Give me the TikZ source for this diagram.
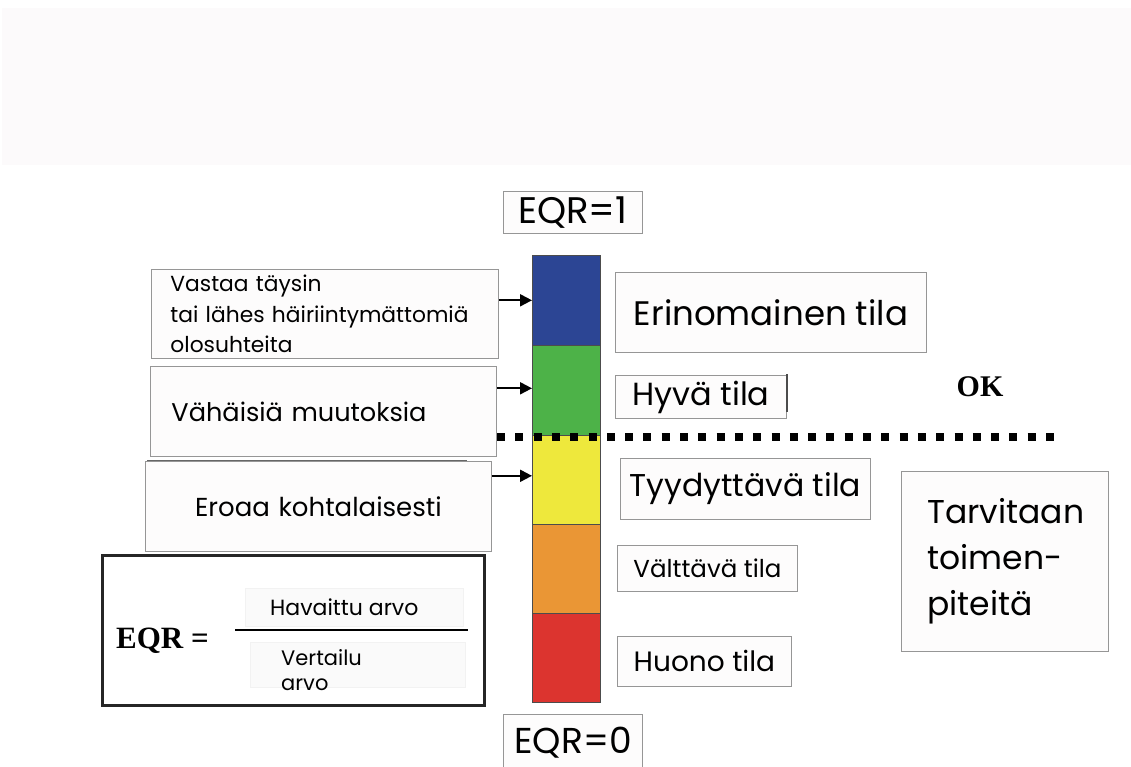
\documentclass[tikz,border=0pt]{standalone}
\usepackage{fontspec}
\setmainfont{Poppins}
\newfontfamily\timesf{Liberation Serif}
\usetikzlibrary{arrows.meta,calc}
\definecolor{topfill}{RGB}{252,250,251}
\definecolor{boxfill}{RGB}{253,252,252}
\definecolor{boxline}{RGB}{150,150,150}
\definecolor{cblue}{RGB}{44,69,148}
\definecolor{cgreen}{RGB}{77,178,72}
\definecolor{cyellow}{RGB}{238,232,60}
\definecolor{corange}{RGB}{234,150,53}
\definecolor{cred}{RGB}{220,52,47}
\newcommand\myfs[2]{\fontsize{#1}{#2}\selectfont}
\begin{document}
\begin{tikzpicture}[x=1pt,y=-1pt,
  tbox/.style={draw=boxline, fill=boxfill, line width=0.9pt, anchor=north west, align=left, inner ysep=0pt},
  seg/.style={draw=black!70, line width=0.6pt, minimum width=68pt, anchor=north west, inner sep=0pt},
  arr/.style={-{Triangle[length=12pt,width=12pt]}, line width=2pt},
  fracbox/.style={draw=black!5, fill=black!2, anchor=north west, inner sep=0pt}
]
\clip (0,0) rectangle (1131,767);
\fill[white] (0,0) rectangle (1131,767);
\fill[topfill] (2,8) rectangle (1131,165);

% left description boxes
\node[tbox, minimum width=347pt, minimum height=89pt, text width=309pt, inner xsep=19pt, font=\myfs{21.8}{30.5}] (v1) at (151,269) {Vastaa täysin\\tai lähes häiriintymättomiä\\olosuhteita};
\node[tbox, minimum width=346pt, minimum height=90pt, text width=304pt, inner xsep=21pt, font=\myfs{25.6}{30}] (v2) at (150,366) {Vähäisiä muutoksia};
\node[tbox, minimum width=346pt, minimum height=90pt, text width=326pt, inner xsep=10pt, align=center, font=\myfs{26}{30}] (v3) at (145,461) {Eroaa kohtalaisesti};
\draw[black!60, line width=1pt] (147,460) -- (467,460);

% colour bar
\node[seg, fill=cblue, minimum height=90pt] (sb) at (532,255) {};
\node[seg, fill=cgreen, minimum height=90pt] (sg) at (532,345) {};
\node[seg, fill=cyellow, minimum height=89pt] (sy) at (532,435) {};
\node[seg, fill=corange, minimum height=89pt] (so) at (532,524) {};
\node[seg, fill=cred, minimum height=89pt] (sr) at (532,613) {};

% arrows
\draw[arr] (v1.east |- sb.west) -- (sb.west);
\draw[arr] ($(v2.east |- sg.west)+(0,-2)$) -- ($(sg.west)+(0,-2)$);
\draw[arr] ($(v3.east |- sy.west)+(0,-4)$) -- ($(sy.west)+(0,-4)$);

% dotted limit line
\coordinate (dl) at (497,437);
\coordinate (dr) at (1054,437);
\draw[line width=8pt, dash pattern=on 8pt off 10.3pt] (dl) -- (dr);

% EQR end labels
\node[tbox, minimum width=139pt, minimum height=42pt, inner xsep=6pt, font=\myfs{37}{42}] (e1) at (503,191) {EQR=1};
\node[tbox, minimum width=139pt, minimum height=57pt, inner xsep=4pt, font=\myfs{36}{42}] (e0) at (503,714) {EQR=0};

% right status boxes
\node[tbox, minimum width=311pt, minimum height=80pt, inner xsep=18pt, font=\myfs{34}{40}] (r1) at (615,272) {Erinomainen tila};
\node[tbox, minimum width=171pt, minimum height=43pt, inner xsep=6pt, font=\myfs{32}{36}] (r2) at (615,375) {Hyvä tila};
\draw[black!70, line width=1.2pt] (787,374) -- (787,412);
\node[tbox, minimum width=250pt, minimum height=61pt, inner xsep=1pt, font=\myfs{31.5}{36}] (r3) at (620,458) {Tyydyttävä tila};
\node[tbox, minimum width=180pt, minimum height=46pt, inner xsep=5pt, font=\myfs{24.5}{28}] (r4) at (617,545) {Välttävä tila};
\node[tbox, minimum width=174pt, minimum height=50pt, inner xsep=4pt, font=\myfs{28}{32}] (r5) at (617,636) {Huono tila};
\node[tbox, minimum width=207pt, minimum height=180pt, text width=155pt, inner xsep=24pt, font=\myfs{33}{46}] (r6) at (901,471) {Tarvitaan\\toimen-\\piteitä};

\node[font=\timesf\bfseries\myfs{30}{34}] (ok) at (980,387) {OK};

% formula box
\node[draw=black!85, line width=2.5pt, anchor=north west, minimum width=382pt, minimum height=150pt] (fb) at (101,554) {};
\node[font=\timesf\bfseries\myfs{31}{36}, anchor=base west, inner sep=0pt] (eqr) at (116,648) {EQR =};
\node[fracbox, minimum width=218pt, minimum height=38pt] (nb) at (245,588) {};
\node[fracbox, minimum width=215pt, minimum height=45pt] (db) at (250,642) {};
\coordinate (frl) at (235,630);
\coordinate (frr) at (468,630);
\draw[line width=2.2pt] (frl) -- (frr);
\node[font=\myfs{22}{25}, anchor=base west, inner sep=0pt] (num) at (270,615) {Havaittu arvo};
\node[font=\myfs{21}{25}, anchor=north west, align=left, inner sep=0pt] (den) at (281,649) {Vertailu\\arvo};
\end{tikzpicture}
\end{document}
